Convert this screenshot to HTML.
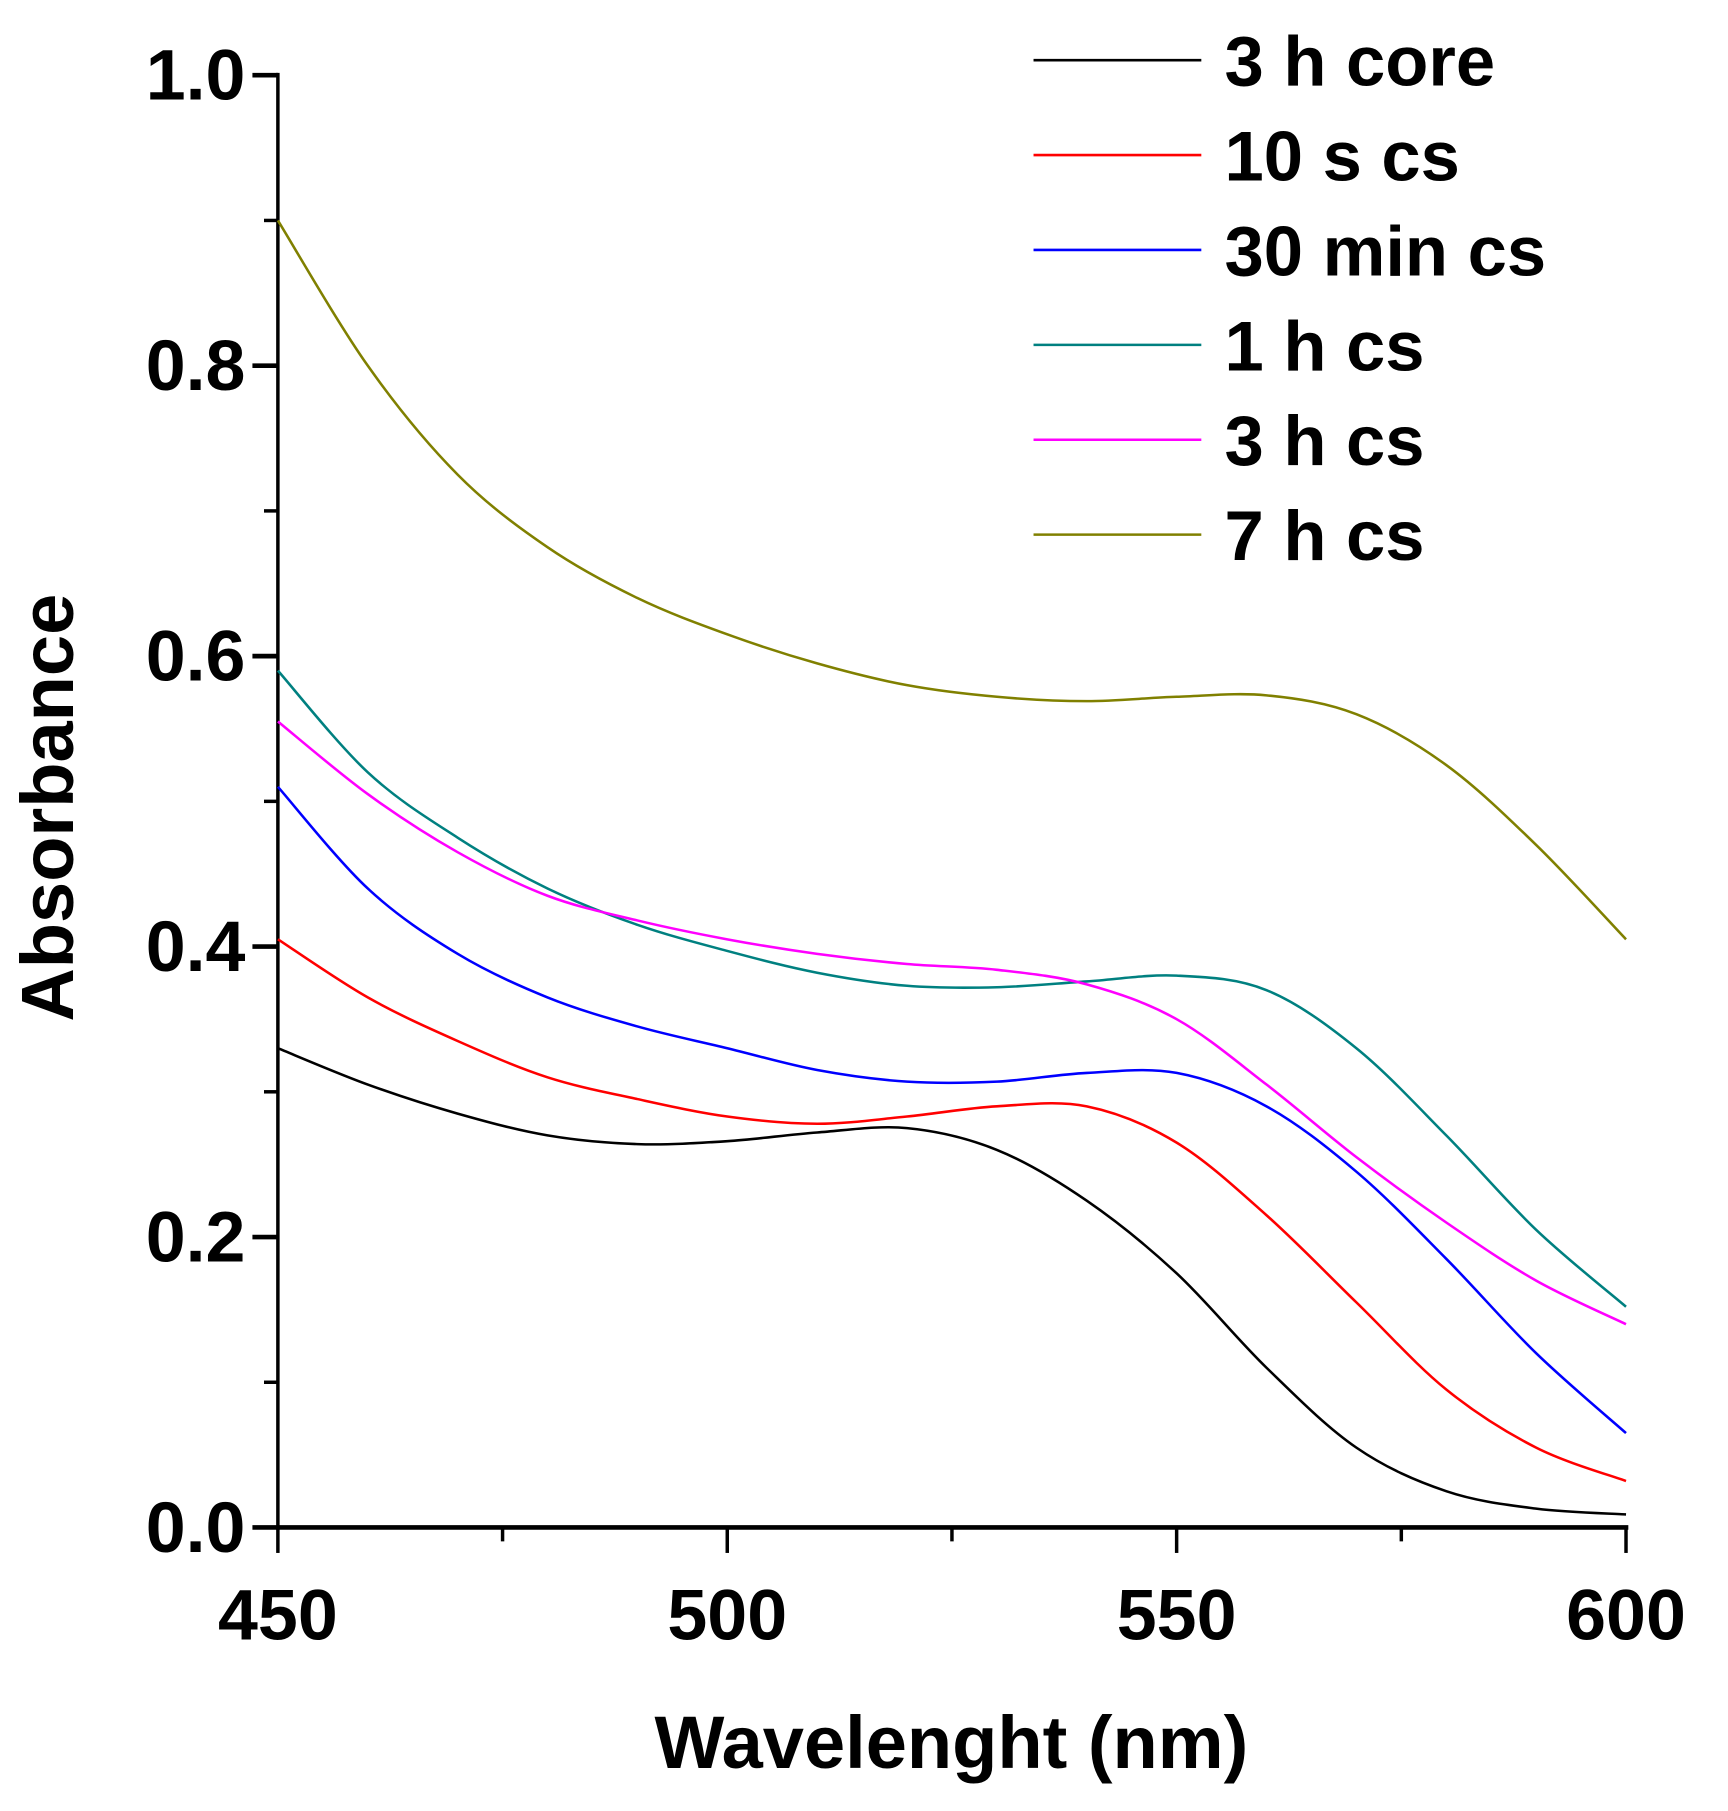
<!DOCTYPE html>
<html><head><meta charset="utf-8"><style>html,body{margin:0;padding:0;background:#fff}svg{display:block}text{font-family:"Liberation Sans",Arial,sans-serif;font-weight:bold}</style></head>
<body>
<svg id="chart" width="1728" height="1811" viewBox="0 0 1493 1565" xmlns="http://www.w3.org/2000/svg">
<g id="axes"></g>
<g id="series"></g>
<g id="legend"></g>
</svg>
<script>
const wavelengths=[450,460,470,480,490,500,510,520,530,540,550,560,570,580,590,600];
const core3h=[0.33,0.305,0.285,0.27,0.264,0.266,0.272,0.275,0.26,0.225,0.175,0.11,0.055,0.025,0.013,0.009];
const cs10s=[0.405,0.365,0.335,0.31,0.295,0.283,0.278,0.283,0.29,0.29,0.265,0.215,0.155,0.095,0.055,0.032];
const cs30min=[0.51,0.44,0.395,0.365,0.345,0.33,0.315,0.307,0.307,0.313,0.313,0.29,0.245,0.185,0.12,0.065];
const cs1h=[0.59,0.52,0.475,0.44,0.415,0.397,0.382,0.373,0.372,0.376,0.38,0.37,0.33,0.27,0.205,0.152];
const cs3h=[0.555,0.505,0.465,0.435,0.418,0.405,0.395,0.388,0.384,0.374,0.35,0.305,0.255,0.21,0.17,0.14];
const cs7h=[0.9,0.8,0.725,0.675,0.64,0.615,0.595,0.58,0.572,0.569,0.572,0.573,0.56,0.525,0.47,0.405];
const seriesNames=["3 h core","10 s cs","30 min cs","1 h cs","3 h cs","7 h cs"];
const seriesColors=["#000000","#ff0000","#0000ff","#008080","#ff00ff","#808000"];
const xTicks=[450,500,550,600];
const xMinor=[475,525,575];
const yTicks=[0,0.2,0.4,0.6,0.8,1.0];
const yMinor=[0.1,0.3,0.5,0.7,0.9];

const NS="http://www.w3.org/2000/svg";
const X0=240,X1=1405,Y0=1320,Y1=65;
function xs(v){return X0+(v-450)/150*(X1-X0);}
function ys(v){return Y0-v*(Y0-Y1);}
function mk(tag,attrs,parent){const e=document.createElementNS(NS,tag);for(const k in attrs)e.setAttribute(k,attrs[k]);parent.appendChild(e);return e;}
const axes=document.getElementById('axes');
let l=mk('line',{x1:X0,y1:Y0,x2:X1+2,y2:Y0,stroke:'#000','stroke-width':4},axes);


l=mk('line',{x1:X0,y1:Y0+2,x2:X0,y2:Y1-2,stroke:'#000','stroke-width':3},axes);


xTicks.forEach(v=>{const t=mk('line',{x1:xs(v),y1:Y0,x2:xs(v),y2:Y0+22,stroke:'#000','stroke-width':3},axes);


const tx=mk('text',{x:xs(v),y:Y0+97,'text-anchor':'middle','font-size':62},axes);tx.textContent=v;

});
xMinor.forEach(v=>{const t=mk('line',{x1:xs(v),y1:Y0,x2:xs(v),y2:Y0+12,stroke:'#000','stroke-width':3},axes);

});
yTicks.forEach(v=>{const t=mk('line',{x1:X0-22,y1:ys(v),x2:X0,y2:ys(v),stroke:'#000','stroke-width':4},axes);


const tx=mk('text',{x:X0-28,y:ys(v)+21,'text-anchor':'end','font-size':62},axes);tx.textContent=v.toFixed(1);

});
yMinor.forEach(v=>{const t=mk('line',{x1:X0-12,y1:ys(v),x2:X0,y2:ys(v),stroke:'#000','stroke-width':3},axes);

});
let tt=mk('text',{x:822,y:1528,'text-anchor':'middle','font-size':64},axes);tt.textContent='Wavelenght (nm)';


tt=mk('text',{x:0,y:0,'text-anchor':'middle','font-size':64,transform:'translate(63,698) rotate(-90)'},axes);tt.textContent='Absorbance';



function smooth(vals){const p=vals.map((v,i)=>[xs(wavelengths[i]),ys(v)]);let d='M'+p[0][0]+','+p[0][1];
for(let i=0;i<p.length-1;i++){const a=p[Math.max(0,i-1)],b=p[i],c=p[i+1],e=p[Math.min(p.length-1,i+2)];
d+=' C'+(b[0]+(c[0]-a[0])/6)+','+(b[1]+(c[1]-a[1])/6)+' '+(c[0]-(e[0]-b[0])/6)+','+(c[1]-(e[1]-b[1])/6)+' '+c[0]+','+c[1];}return d;}
const all=[core3h,cs10s,cs30min,cs1h,cs3h,cs7h];
const sg=document.getElementById('series'),lg=document.getElementById('legend');
all.forEach((vals,i)=>{const p=mk('path',{d:smooth(vals),fill:'none',stroke:seriesColors[i],'stroke-width':2.2},sg);


const y=52+i*82;
const ll=mk('line',{x1:893,y1:y,x2:1038,y2:y,stroke:seriesColors[i],'stroke-width':2.2},lg);


const t=mk('text',{x:1058,y:y+22,'font-size':61},lg);t.textContent=seriesNames[i];

});
</script>
</body></html>
